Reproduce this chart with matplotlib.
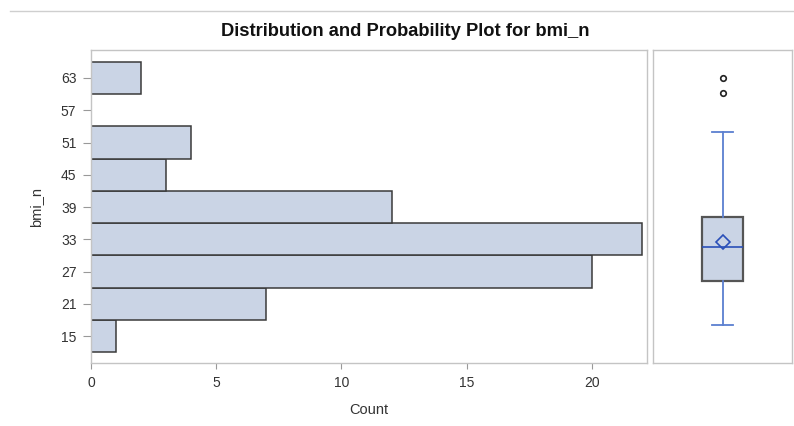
import matplotlib
matplotlib.use("Agg")
import matplotlib.pyplot as plt
from matplotlib.lines import Line2D

# Histogram bins (midpoints) and counts
bin_mids = [15, 21, 27, 33, 39, 45, 51, 57, 63]
counts = [1, 7, 20, 22, 12, 3, 4, 0, 2]
bin_width = 6
y_ticks = [15, 21, 27, 33, 39, 45, 51, 57, 63]
x_ticks = [0, 5, 10, 15, 20]

# Box plot summary
box_q1 = 25.3
box_med = 31.6
box_q3 = 37.1
box_mean = 32.5
whisk_lo = 17.0
whisk_hi = 53.0
outliers = [60.2, 63.0]

fill = "#cad4e5"
edge = "#3a3a3a"
frame = "#c4c4c4"
blue = "#5b7fd0"
text_col = "#333333"

plt.rcParams["font.family"] = ["Liberation Sans", "DejaVu Sans"]

fig = plt.figure(figsize=(7.94, 4.26), dpi=100)
ax = fig.add_axes([0.1146, 0.1479, 0.7003, 0.7347])
ax2 = fig.add_axes([0.8224, 0.1479, 0.1751, 0.7347])

# --- histogram ---
ax.barh(bin_mids, counts, height=bin_width, color=fill, edgecolor=edge,
        linewidth=1.1, zorder=2)
ax.set_xlim(0, 22.2)
ax.set_ylim(10.0, 68.2)
ax.set_xticks(x_ticks)
ax.set_yticks(y_ticks)
ax.tick_params(colors="#999999", labelcolor=text_col, labelsize=10, width=0.8)
ax.tick_params(axis="x", length=4.5, pad=5)
ax.tick_params(axis="y", length=5.5, pad=5)
for s in ax.spines.values():
    s.set_color(frame)
    s.set_linewidth(1.0)
ax.set_xlabel("Count", fontsize=10.5, color=text_col, labelpad=9)
ax.set_ylabel("bmi_n", fontsize=10.5, color=text_col, labelpad=13)

# --- box plot ---
stats = [{
    "med": box_med, "q1": box_q1, "q3": box_q3, "mean": box_mean,
    "whislo": whisk_lo, "whishi": whisk_hi, "fliers": outliers,
}]
ax2.bxp(stats, positions=[0], widths=0.6, showmeans=True, patch_artist=True,
        boxprops=dict(facecolor=fill, edgecolor="#555555", linewidth=1.6),
        medianprops=dict(color="#2a4fb8", linewidth=1.2),
        whiskerprops=dict(color=blue, linewidth=1.3),
        capprops=dict(color=blue, linewidth=1.3),
        capwidths=0.3,
        meanprops=dict(marker="D", markerfacecolor="none", markeredgecolor="#2a4fb8",
                       markersize=7, markeredgewidth=1.2),
        flierprops=dict(marker="o", markerfacecolor="none", markeredgecolor="#222222",
                        markersize=4, markeredgewidth=1.2))
ax2.set_xlim(-1.0, 1.0)
ax2.set_ylim(10.0, 68.2)
ax2.set_xticks([])
ax2.set_yticks([])
for s in ax2.spines.values():
    s.set_color(frame)
    s.set_linewidth(1.0)

# title and top rule
fig.text(0.510, 0.927, "Distribution and Probability Plot for bmi_n",
         ha="center", va="center", fontsize=13.2, fontweight="bold", color="#111111")
fig.add_artist(Line2D([0.013, 1.0], [0.975, 0.975], color="#cfcfcf", linewidth=1.0))

fig.savefig("out.png", dpi=100)
